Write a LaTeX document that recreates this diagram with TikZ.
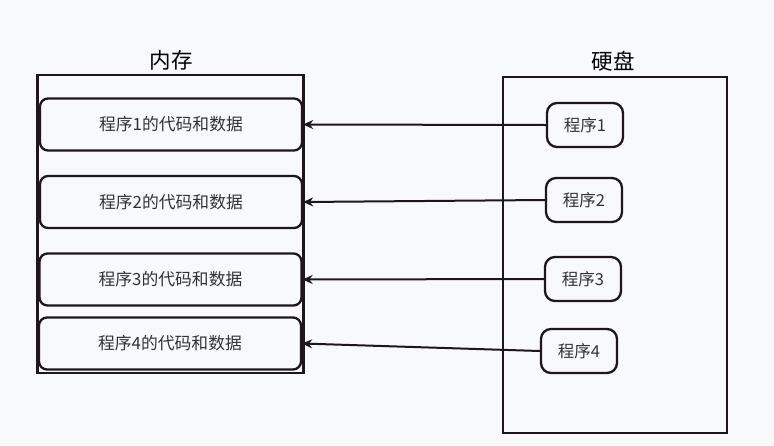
\documentclass[tikz,border=0pt]{standalone}
\usepackage{fontspec}
\setmainfont{Noto Sans CJK SC}
\usetikzlibrary{arrows.meta}
\definecolor{bg}{RGB}{248,249,251}
\definecolor{ln}{RGB}{30,22,26}
\definecolor{tx}{RGB}{50,50,50}
\begin{document}
\begin{tikzpicture}[x=1pt,y=-1pt,
  frame/.style={draw=ln,line width=2.3pt},
  membox/.style={draw=ln,line width=2.3pt,rounded corners=8pt,minimum width=262pt,minimum height=52pt,inner sep=0pt,font=\fontsize{16.8}{17}\selectfont,text=tx},
  progbox/.style={draw=ln,line width=2.3pt,rounded corners=10pt,minimum width=76pt,minimum height=44pt,inner sep=0pt,font=\fontsize{16.5}{17}\selectfont,text=tx},
  title/.style={font=\fontsize{21.5}{22}\selectfont,text=black},
  link/.style={draw=ln,line width=2pt,-{Stealth[length=10pt,width=9pt]}}]
\fill[bg] (0,0) rectangle (774,445);
\useasboundingbox (0,0) rectangle (774,445);
\node[frame,minimum width=266pt,minimum height=298pt,inner sep=0pt] (mem) at (170.5,224) {};
\node[frame,minimum width=224pt,minimum height=356pt,inner sep=0pt] (disk) at (615,255) {};
\node[title] (memt) at (171,60) {内存};
\node[title] (diskt) at (613,61) {硬盘};
\node[membox] (m1) at (171,124.5) {程序1的代码和数据};
\node[membox] (m2) at (171,202) {程序2的代码和数据};
\node[membox] (m3) at (170.5,279.5) {程序3的代码和数据};
\node[membox] (m4) at (170,343.5) {程序4的代码和数据};
\node[progbox] (p1) at (585,125) {程序1};
\node[progbox] (p2) at (584,200) {程序2};
\node[progbox] (p3) at (583,279) {程序3};
\node[progbox] (p4) at (579,351) {程序4};
\draw[link] (p1.west) -- (m1.east);
\draw[link] (p2.west) -- (m2.east);
\draw[link] (p3.west) -- (m3.east);
\draw[link] (p4.west) -- (m4.east);
\end{tikzpicture}
\end{document}
